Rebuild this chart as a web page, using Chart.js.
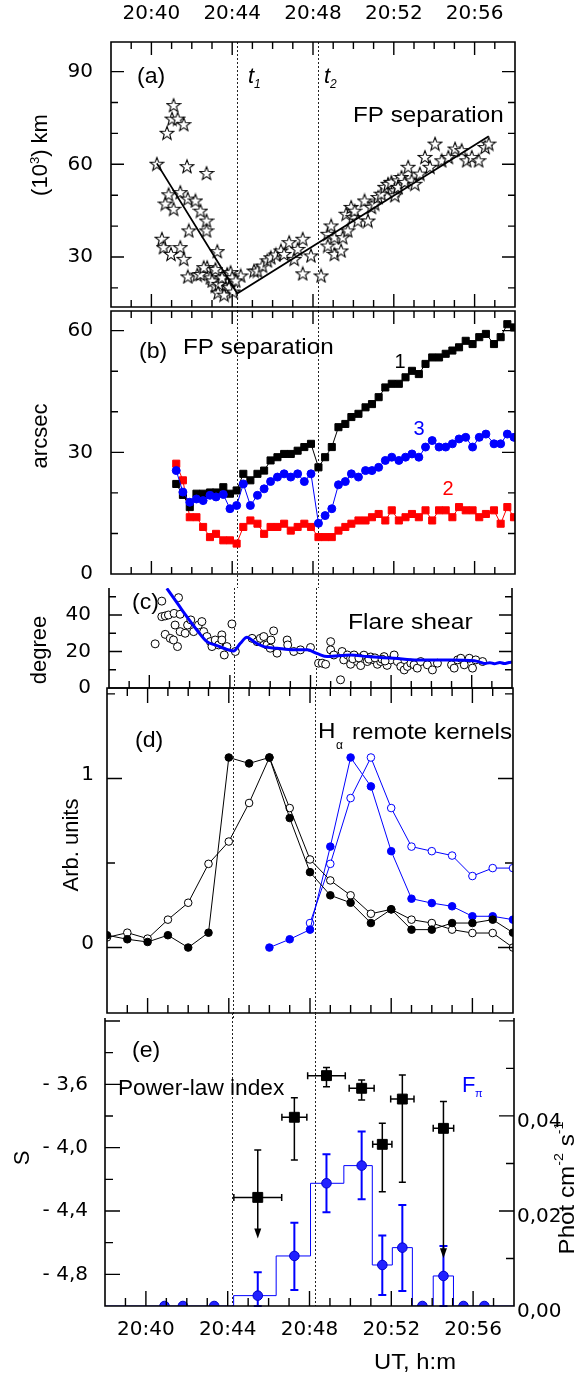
<!DOCTYPE html>
<html>
<head>
<meta charset="utf-8">
<title>Flare footpoint separation</title>
<script src="https://cdn.jsdelivr.net/npm/chart.js@4.4.1/dist/chart.umd.min.js"></script>
<style>
html,body{margin:0;padding:0;background:#fff;}
#wrap{position:relative;width:579px;height:1375px;overflow:hidden;background:#fff;}
#wrap canvas{position:absolute;left:0;top:0;}
</style>
</head>
<body>
<div id="wrap">
<canvas id="pa" width="579" height="1375"></canvas>
<canvas id="pb" width="579" height="1375"></canvas>
<canvas id="pc" width="579" height="1375"></canvas>
<canvas id="pd" width="579" height="1375"></canvas>
<canvas id="pe" width="579" height="1375"></canvas>
</div>
<script>
// ================= DATA (time in minutes after 20:00 UT) =================
const timeTicks = [40, 44, 48, 52, 56];
const timeTickLabels = ['20:40', '20:44', '20:48', '20:52', '20:56'];
const markerTimes = [44.22, 48.25]; // t1, t2

// (a) FP separation, 10^3 km
const kmTicks = [30, 60, 90];
const fpKmTime = [41.10,41.02,41.30,41.60,40.77,40.27,41.76,42.73,40.85,41.43,40.69,41.10,41.80,42.18,42.43,42.73,42.73,41.85,40.52,40.60,40.97,41.43,41.60,43.26,41.80,42.27,42.76,42.92,43.17,43.42,43.67,43.75,43.92,44.42,42.43,42.59,43.01,43.17,43.34,43.50,43.84,44.00,44.17,43.30,43.60,44.05,45.08,45.25,45.50,45.74,45.91,46.16,46.41,46.57,46.82,47.07,47.24,47.49,47.90,47.49,48.40,48.73,48.73,48.90,49.06,49.06,49.39,49.47,49.64,49.72,49.89,49.97,50.06,50.22,50.55,50.72,50.89,51.05,51.22,51.38,51.55,51.71,51.88,52.05,52.05,52.21,52.21,52.38,52.54,52.71,52.88,53.04,53.29,53.54,53.79,54.04,54.37,54.70,55.03,55.36,55.61,55.86,56.20,56.52,56.70];
const fpKm = [79.2,74.8,74.8,73.0,70.2,60.2,59.4,57.2,50.3,51.0,47.3,45.6,48.9,48.3,45.0,41.8,38.6,38.6,35.9,33.2,31.0,33.2,29.4,31.9,23.7,24.3,26.7,23.4,20.7,22.4,20.2,24.5,25.1,24.0,24.5,26.7,22.4,26.1,21.3,23.4,20.2,23.4,22.4,18.5,17.8,18.8,25.6,25.6,27.2,28.9,29.9,30.8,32.1,31.0,34.8,29.4,32.6,35.9,30.5,24.7,24.0,33.7,37.5,40.2,36.4,31.0,32.1,36.4,44.0,38.6,46.2,42.9,45.0,41.8,48.3,41.8,46.2,47.3,49.4,50.5,52.7,53.7,54.3,51.6,50.0,54.8,52.7,55.9,54.3,59.2,54.8,53.7,57.0,62.4,59.2,66.7,61.3,62.4,65.1,64.6,61.3,62.4,61.3,65.6,66.7];
const fpFitTime = [40.27, 44.25, 56.70];
const fpFit = [60.3, 18.2, 69.1];

// (b) FP separation, arcsec
const arcTicks = [0, 30, 60];
const arcTime = [41.23,41.56,41.90,42.23,42.56,42.90,43.20,43.56,43.89,44.22,44.55,44.90,45.25,45.58,45.90,46.24,46.57,46.90,47.24,47.57,47.90,48.27,48.60,48.93,49.26,49.60,49.90,50.25,50.60,50.92,51.25,51.58,51.90,52.25,52.58,52.90,53.24,53.57,53.90,54.24,54.57,54.90,55.23,55.56,55.90,56.23,56.56,56.96,57.29,57.62,57.95];
const arcSeries1 = [22.2,19.5,16.5,19.8,19.8,20.1,20.1,21.4,19.8,20.6,24.7,23.1,24.7,25.5,28.0,28.8,29.6,29.6,30.4,31.3,32.1,26.3,28.8,31.3,36.2,37.0,38.7,39.5,41.1,41.9,43.6,46.0,46.9,46.9,48.5,50.1,49.3,51.8,53.4,53.4,54.3,55.1,55.9,57.5,56.7,58.4,59.2,56.7,58.4,61.6,60.8];
const arcSeries2 = [27.2,23.1,14.0,14.0,11.6,9.1,9.9,8.3,8.3,7.5,11.6,13.2,12.4,9.9,11.6,11.6,12.4,10.7,11.6,12.4,11.6,9.1,9.1,9.1,10.7,11.6,12.4,13.2,13.2,14.0,14.8,13.2,15.7,13.2,14.0,14.8,14.0,15.7,13.2,15.7,15.7,14.0,16.5,15.7,15.7,14.0,14.8,15.7,12.4,16.5,14.0];
const arcSeries3 = [25.5,20.2,17.7,18.5,18.1,19.4,19.0,19.6,16.1,16.9,22.2,16.9,19.4,21.0,22.8,23.9,24.7,23.9,24.7,22.8,24.7,12.5,14.4,16.1,22.0,22.8,24.7,23.9,25.5,25.5,26.3,28.0,28.8,28.0,28.8,29.6,28.8,31.3,32.9,31.3,31.3,32.1,33.3,33.7,31.3,33.7,34.5,32.1,32.1,34.5,33.7];

// (c) flare shear, degree
const degTicks = [0, 20, 40];
const shearTime = [40.29,40.62,41.45,40.62,40.79,40.95,41.23,41.53,40.79,41.04,41.28,41.40,41.20,41.53,41.78,41.90,42.06,42.20,42.44,42.61,42.70,42.86,43.03,43.11,43.27,43.44,43.60,43.60,43.85,43.72,44.10,44.27,45.10,45.35,45.51,45.68,45.84,46.00,46.17,46.04,46.34,46.84,46.87,47.17,47.50,48.00,48.40,48.58,48.75,49.00,49.00,49.16,49.49,49.57,49.65,49.83,49.99,49.99,50.16,50.32,50.49,50.65,50.82,50.99,51.15,51.32,51.48,51.65,51.80,51.98,52.15,52.31,52.48,52.65,52.81,52.98,53.14,53.30,53.47,53.80,54.05,54.30,55.00,55.13,55.30,55.46,55.63,55.88,56.04,56.20,56.54,50.10,50.40,50.90,51.20,51.55,51.70];
const shearDeg = [24.2,47.6,49.5,39.1,39.5,40.0,40.9,40.4,29.4,27.2,34.5,22.7,26.3,30.9,30.0,34.5,37.3,30.9,34.5,36.4,30.9,28.2,25.4,22.7,26.3,23.6,29.1,26.3,22.7,18.1,35.1,20.0,27.2,25.4,27.2,28.2,23.6,21.8,31.3,26.3,19.1,26.3,23.6,20.0,20.9,22.2,13.6,13.6,13.0,25.4,20.9,18.1,4.5,20.0,15.4,18.1,16.3,13.0,18.1,14.5,12.3,18.0,14.5,17.0,15.4,13.0,14.5,17.2,12.4,15.4,18.1,14.5,11.8,9.9,11.8,13.6,12.7,10.9,14.5,12.7,9.9,13.6,12.7,10.9,15.4,16.3,12.7,16.3,10.9,15.4,14.5,16.0,16.5,15.8,16.5,15.8,14.8];
const shearFitTime = [40.87,41.45,41.86,42.36,42.86,43.27,43.69,44.18,44.52,44.85,45.18,45.68,46.34,47.17,47.83,48.35,48.83,49.99,50.82,52.15,53.31,54.14,54.97,56.13,56.40,56.62,56.90,57.12,57.40,57.62,57.85,58.00];
const shearFit = [54.6,45.5,39.1,31.8,25.4,23.6,21.8,20.3,24.5,27.8,25.4,22.7,21.8,20.9,20.9,18.8,17.2,18.1,17.2,16.3,15.4,15.4,15.4,14.9,14.2,13.4,13.9,13.3,14.0,13.4,14.0,14.2];

// (d) H-alpha remote kernels, arb. units
const arbTicks = [0, 1];
const kernTimeBlack = [38,39,40,41,42,43,44,45,46,47,48,49,50,51,52,53,54,55,56,57,58];
const kernBlackFilled = [0.073,0.049,0.033,0.073,0.000,0.088,1.124,1.089,1.124,0.766,0.446,0.309,0.265,0.145,0.226,0.106,0.106,0.145,0.145,0.165,0.088];
const kernBlackOpen = [0.060,0.088,0.053,0.165,0.265,0.495,0.627,0.855,1.124,0.825,0.521,0.397,0.309,0.200,0.226,0.165,0.145,0.106,0.086,0.086,0.000];
const kernTimeBlueFilled = [46,47,48,49,50,51,52,53,54,55,56,57,58];
const kernBlueFilled = [0.000,0.049,0.106,0.597,1.124,0.953,0.570,0.289,0.263,0.244,0.185,0.185,0.165];
const kernTimeBlueOpen = [48,49,50,51,52,53,54,55,56,57,58];
const kernBlueOpen = [0.145,0.495,0.884,1.124,0.825,0.597,0.570,0.544,0.423,0.470,0.470];

// (e) power-law index S and flux F_pi
const sTicks = [-4.8, -4.4, -4.0, -3.6];
const sTickLabels = ['- 4,8', '- 4,4', '- 4,0', '- 3,6'];
const fluxTicks = [0, 0.02, 0.04];
const fluxTickLabels = ['0,00', '0,02', '0,04'];
const sTime = [45.47, 47.26, 48.83, 50.55, 51.56, 52.54, 54.55];
const sIndex = [-4.314, -3.808, -3.545, -3.625, -3.979, -3.693, -3.878];
const sTimeErr = [1.17, 0.61, 0.92, 0.61, 0.47, 0.57, 0.50];
const sHigh = [-4.015, -3.684, -3.493, -3.573, -3.846, -3.541, -3.709];
const sLow = [-4.573, -4.078, -3.615, -3.699, -4.278, -4.219, -4.699];
const sUpperLimit = [true, false, false, false, false, false, true];
const fluxTime = [40.91, 41.81, 43.34, 45.47, 47.26, 48.83, 50.55, 51.56, 52.54, 53.52, 54.55, 55.53, 56.55];
const flux = [0, 0, 0, 0.00218, 0.01053, 0.02582, 0.02954, 0.00863, 0.01228, 0, 0.00632, 0, 0];
const fluxHigh = [null, null, null, 0.0071, 0.01754, 0.03193, 0.0367, 0.01481, 0.02126, null, 0.01263, null, null];
const fluxLow = [null, null, null, 0, 0.00337, 0.01972, 0.02246, 0.00232, 0.00316, null, 0, null, null];
const fluxStepTime = [38, 44.29, 46.37, 48.05, 49.68, 51.07, 52.05, 53.03, 54.05, 55.04, 58];
const fluxStep = [0, 0.00218, 0.01053, 0.02582, 0.02954, 0.00863, 0.01228, 0, 0.00632, 0, 0];

// ================= RENDERING =================
Chart.defaults.font.family = '"DejaVu Sans", sans-serif';
Chart.defaults.font.size = 20;
Chart.defaults.color = '#000';
const W = 579, H = 1375;
const BLUE = '#0000ff', RED = '#ff0000';
const pts = (xs, ys) => xs.map((x, i) => ({x, y: ys[i]}));
const setTicks = vals => s => { s.ticks = vals.map(v => ({value: v})); };

function ticksBetween(min, max, step) {
  const out = [];
  const k0 = Math.ceil(min / step - 1e-6), k1 = Math.floor(max / step + 1e-6);
  for (let k = k0; k <= k1; k++) out.push(k * step);
  return out;
}
function isMajor(v, major) { const q = v / major; return Math.abs(q - Math.round(q)) < 1e-6; }

const framePlugin = {
  id: 'frame',
  beforeDatasetsDraw(chart, args, o) {
    const {ctx, chartArea: a} = chart, xs = chart.scales.x;
    ctx.save(); ctx.strokeStyle = '#222'; ctx.lineWidth = 1; ctx.setLineDash([2, 2]);
    for (const t of (o.markers || [])) {
      const px = Math.round(xs.getPixelForValue(t)) + 0.5;
      ctx.beginPath(); ctx.moveTo(px, a.top - (o.markTop || 0)); ctx.lineTo(px, a.bottom + (o.markBottom || 0)); ctx.stroke();
    }
    ctx.restore();
  },
  afterDatasetsDraw(chart, args, o) {
    const {ctx, chartArea: a} = chart, xs = chart.scales.x;
    const LM = o.len[0], Lm = o.len[1];
    ctx.save(); ctx.strokeStyle = '#000'; ctx.lineWidth = 1.6; ctx.setLineDash([]);
    ctx.beginPath();
    if (o.sides.includes('l')) { ctx.moveTo(a.left, a.top); ctx.lineTo(a.left, a.bottom); }
    if (o.sides.includes('r')) { ctx.moveTo(a.right, a.top); ctx.lineTo(a.right, a.bottom); }
    if (o.sides.includes('t')) { ctx.moveTo(a.left - 0.8, a.top); ctx.lineTo(a.right + 0.8, a.top); }
    if (o.sides.includes('b')) { ctx.moveTo(a.left - 0.8, a.bottom); ctx.lineTo(a.right + 0.8, a.bottom); }
    ctx.stroke();
    ctx.lineWidth = 1.4; ctx.beginPath();
    for (const v of ticksBetween(xs.min, xs.max, o.xMinor)) {
      const px = xs.getPixelForValue(v);
      if (px < a.left + 2 || px > a.right - 2) continue;
      const L = isMajor(v, o.xMajor) ? LM : Lm;
      ctx.moveTo(px, a.bottom); ctx.lineTo(px, a.bottom - L);
      if (o.topTicks) { ctx.moveTo(px, a.top); ctx.lineTo(px, a.top + L); }
    }
    for (const side of ['left', 'right']) {
      const c = o[side]; if (!c) continue;
      const ys = chart.scales[c.scale];
      for (const v of ticksBetween(ys.min, ys.max, c.minor)) {
        const py = ys.getPixelForValue(v);
        if (py < a.top + 2 || py > a.bottom - 2) continue;
        const L = isMajor(v, c.major) ? LM : Lm;
        if (side === 'left') { ctx.moveTo(a.left, py); ctx.lineTo(a.left + L, py); }
        else { ctx.moveTo(a.right, py); ctx.lineTo(a.right - L, py); }
      }
    }
    ctx.stroke(); ctx.restore();
  }
};

const textPlugin = {
  id: 'texts',
  afterDraw(chart, args, o) {
    const ctx = chart.ctx;
    for (const t of (o.items || [])) {
      ctx.save();
      ctx.fillStyle = t.color || '#000';
      ctx.textBaseline = t.baseline || 'alphabetic';
      ctx.translate(t.x, t.y);
      if (t.rot) ctx.rotate(t.rot);
      ctx.scale(t.sx || 1, 1);
      const parts = t.parts || [{text: t.text}];
      const fontOf = p => `${p.style || t.style || ''} ${p.size || t.size || 22}px "Liberation Sans", Arial, sans-serif`;
      let total = 0;
      for (const p of parts) { ctx.font = fontOf(p); total += ctx.measureText(p.text).width; }
      let x = t.align === 'center' ? -total / 2 : (t.align === 'right' ? -total : 0);
      ctx.textAlign = 'left';
      for (const p of parts) { ctx.font = fontOf(p); ctx.fillText(p.text, x, p.dy || 0); x += ctx.measureText(p.text).width; }
      ctx.restore();
    }
  }
};

const errPlugin = {
  id: 'errbars',
  beforeDatasetsDraw(chart, args, o) {
    const ctx = chart.ctx, xs = chart.scales.x;
    for (const s of (o.sets || [])) {
      const ys = chart.scales[s.yAxis];
      ctx.save(); ctx.strokeStyle = s.color; ctx.fillStyle = s.color; ctx.lineWidth = s.width;
      s.x.forEach((xv, i) => {
        const px = xs.getPixelForValue(xv), py = ys.getPixelForValue(s.y[i]);
        const c = s.cap;
        ctx.beginPath();
        if (s.xErr) {
          const x1 = xs.getPixelForValue(xv - s.xErr[i]), x2 = xs.getPixelForValue(xv + s.xErr[i]);
          ctx.moveTo(x1, py); ctx.lineTo(x2, py);
          ctx.moveTo(x1, py - c); ctx.lineTo(x1, py + c);
          ctx.moveTo(x2, py - c); ctx.lineTo(x2, py + c);
        }
        if (s.hi[i] != null) {
          const yh = ys.getPixelForValue(s.hi[i]), yl = ys.getPixelForValue(s.lo[i]);
          const arrow = s.arrow && s.arrow[i];
          ctx.moveTo(px, yh); ctx.lineTo(px, arrow ? yl - 6 : yl);
          ctx.moveTo(px - c, yh); ctx.lineTo(px + c, yh);
          if (!arrow) { ctx.moveTo(px - c, yl); ctx.lineTo(px + c, yl); }
        }
        ctx.stroke();
        if (s.arrow && s.arrow[i]) {
          const yl = ys.getPixelForValue(s.lo[i]);
          ctx.beginPath(); ctx.moveTo(px, yl); ctx.lineTo(px - 3.5, yl - 10); ctx.lineTo(px + 3.5, yl - 10); ctx.closePath(); ctx.fill();
        }
      });
      ctx.restore();
    }
  }
};

// axis boxes get real sizes (labels are clipped to them); chart area is set by padding + box sizes
function timeAxis(position, showLabels, pad, boxH) {
  return {type: 'linear', position, min: 38, max: 58, afterFit: s => { s.height = boxH || 0; }, afterBuildTicks: setTicks(timeTicks),
    grid: {display: false, drawTicks: false}, border: {display: false},
    ticks: {display: showLabels, padding: pad || 0, autoSkip: false, maxRotation: 0, minRotation: 0,
      callback: (v, i) => timeTickLabels[i]}};
}
function valueAxis(position, min, max, vals, labels, pad, offset, boxW) {
  return {type: 'linear', position, min, max, afterFit: s => { s.width = boxW; }, afterBuildTicks: setTicks(vals),
    grid: {display: false, drawTicks: false}, border: {display: false},
    ticks: {padding: pad, autoSkip: false, labelOffset: offset || 0, callback: (v, i) => labels[i]}};
}
function makeChart(id, area, boxes, scales, datasets, frame, texts, errbars) {
  const b = Object.assign({left: 0, right: 0, top: 0, bottom: 0}, boxes);
  return new Chart(document.getElementById(id), {
    type: 'scatter',
    data: {datasets},
    options: {
      responsive: false, animation: false, devicePixelRatio: 1, events: [],
      layout: {padding: {left: area[0] - b.left, top: area[1] - b.top, right: W - area[2] - b.right, bottom: H - area[3] - b.bottom}},
      scales,
      plugins: {legend: {display: false}, tooltip: {enabled: false}, frame, texts: {items: texts}, errbars: {sets: errbars || []}}
    },
    plugins: [framePlugin, textPlugin, errPlugin]
  });
}

function makeStar(size) {
  const c = document.createElement('canvas'); c.width = c.height = size;
  const g = c.getContext('2d');
  const R = size / 2 - 1, r = R * 0.42, cx = size / 2, cy = size / 2 + 0.7;
  g.beginPath();
  for (let i = 0; i < 10; i++) {
    const ang = -Math.PI / 2 + i * Math.PI / 5, rad = i % 2 ? r : R;
    g.lineTo(cx + rad * Math.cos(ang), cy + rad * Math.sin(ang));
  }
  g.closePath(); g.fillStyle = '#fff'; g.fill(); g.lineWidth = 1.1; g.strokeStyle = '#000'; g.stroke();
  return c;
}
const star = makeStar(16);
const ROT = -Math.PI / 2;
const LBOX = 100;

// ---- panel (a) ----
makeChart('pa', [111, 42, 515, 307], {left: LBOX, top: 40}, {
  x: timeAxis('bottom', false, 0, 0),
  x2: timeAxis('top', true, 16, 40),
  y: valueAxis('left', 13.8, 99.6, kmTicks, kmTicks.map(String), 18, 0, LBOX)
}, [
  {data: pts(fpFitTime, fpFit), showLine: true, borderColor: '#000', borderWidth: 1.8, pointRadius: 0},
  {data: pts(fpKmTime, fpKm), showLine: false, pointStyle: star, pointRadius: 7}
], {sides: 'lrtb', topTicks: true, xMinor: 1, xMajor: 4, len: [13, 7],
    left: {scale: 'y', minor: 10, major: 30}, right: {scale: 'y', minor: 10, major: 30},
    markers: markerTimes, markBottom: 4},
[
  {text: '(a)', x: 137, y: 77, baseline: 'middle', size: 22, sx: 1.05},
  {parts: [{text: 't', style: 'italic'}, {text: '1', style: 'italic', size: 12, dy: 5}], x: 248, y: 83, size: 22},
  {parts: [{text: 't', style: 'italic'}, {text: '2', style: 'italic', size: 12, dy: 5}], x: 324, y: 83, size: 22},
  {text: 'FP separation', x: 353, y: 122, size: 22, sx: 1.1},
  {parts: [{text: '(10'}, {text: '3', size: 13, dy: -6}, {text: ') km'}], x: 41, y: 155, rot: ROT, align: 'center', baseline: 'middle', size: 22}
]);

// ---- panel (b) ----
makeChart('pb', [111, 311, 515, 574], {left: LBOX}, {
  x: timeAxis('bottom', false, 0, 0),
  y: valueAxis('left', 0, 64.85, arcTicks, arcTicks.map(String), 18, 0, LBOX)
}, [
  {data: pts(arcTime, arcSeries3), showLine: true, borderColor: BLUE, borderWidth: 1, pointStyle: 'circle', pointRadius: 4, pointBackgroundColor: BLUE, pointBorderColor: BLUE},
  {data: pts(arcTime, arcSeries1), showLine: true, borderColor: '#000', borderWidth: 1, pointStyle: 'rect', pointRadius: 5, pointBackgroundColor: '#000', pointBorderColor: '#000'},
  {data: pts(arcTime, arcSeries2), showLine: true, borderColor: RED, borderWidth: 1, pointStyle: 'rect', pointRadius: 5, pointBackgroundColor: RED, pointBorderColor: RED}
], {sides: 'lrtb', topTicks: true, xMinor: 1, xMajor: 4, len: [13, 7],
    left: {scale: 'y', minor: 10, major: 30}, right: {scale: 'y', minor: 10, major: 30},
    markers: markerTimes, markBottom: 14},
[
  {text: '(b)', x: 139, y: 352, baseline: 'middle', size: 22, sx: 1.05},
  {text: 'FP separation', x: 183, y: 354, size: 22, sx: 1.1},
  {text: '1', x: 400, y: 362, align: 'center', baseline: 'middle', size: 20},
  {text: '3', x: 419, y: 429, align: 'center', baseline: 'middle', size: 20, color: BLUE},
  {text: '2', x: 448, y: 489, align: 'center', baseline: 'middle', size: 20, color: RED},
  {text: 'arcsec', x: 41, y: 436, rot: ROT, align: 'center', baseline: 'middle', size: 22}
]);

// ---- panel (c) ----
makeChart('pc', [109, 588, 512, 688], {left: LBOX}, {
  x: timeAxis('bottom', false, 0, 0),
  y: valueAxis('left', 0, 54.8, degTicks, degTicks.map(String), 18, 0, LBOX)
}, [
  {data: pts(shearFitTime, shearFit), showLine: true, borderColor: BLUE, borderWidth: 3, pointRadius: 0, cubicInterpolationMode: 'monotone'},
  {data: pts(shearTime, shearDeg), showLine: false, pointStyle: 'circle', pointRadius: 4, pointBackgroundColor: '#fff', pointBorderColor: '#000', pointBorderWidth: 1}
], {sides: 'lrb', topTicks: false, xMinor: 1, xMajor: 4, len: [13, 7],
    left: {scale: 'y', minor: 10, major: 20}, right: {scale: 'y', minor: 10, major: 20},
    markers: markerTimes},
[
  {text: '(c)', x: 132, y: 603, baseline: 'middle', size: 22, sx: 1.05},
  {text: 'Flare shear', x: 348, y: 629, size: 22, sx: 1.12},
  {text: 'degree', x: 40, y: 650, rot: ROT, align: 'center', baseline: 'middle', size: 22}
]);

// ---- panel (d) ----
makeChart('pd', [107, 688, 513, 1013], {left: LBOX}, {
  x: timeAxis('bottom', false, 0, 0),
  y: valueAxis('left', -0.387, 1.535, arbTicks, arbTicks.map(String), 13, -4, LBOX)
}, [
  {data: pts(kernTimeBlack, kernBlackFilled), showLine: true, borderColor: '#000', borderWidth: 1, pointStyle: 'circle', pointRadius: 3.8, pointBackgroundColor: '#000', pointBorderColor: '#000'},
  {data: pts(kernTimeBlack, kernBlackOpen), showLine: true, borderColor: '#000', borderWidth: 1, pointStyle: 'circle', pointRadius: 3.8, pointBackgroundColor: '#fff', pointBorderColor: '#000'},
  {data: pts(kernTimeBlueFilled, kernBlueFilled), showLine: true, borderColor: BLUE, borderWidth: 1, pointStyle: 'circle', pointRadius: 3.8, pointBackgroundColor: BLUE, pointBorderColor: BLUE},
  {data: pts(kernTimeBlueOpen, kernBlueOpen), showLine: true, borderColor: BLUE, borderWidth: 1, pointStyle: 'circle', pointRadius: 3.8, pointBackgroundColor: '#fff', pointBorderColor: BLUE}
], {sides: 'lrtb', topTicks: true, xMinor: 1, xMajor: 4, len: [15, 8],
    left: {scale: 'y', minor: 0.5, major: 1}, right: {scale: 'y', minor: 0.5, major: 1},
    markers: markerTimes, markBottom: 5},
[
  {text: '(d)', x: 135, y: 741, baseline: 'middle', size: 22, sx: 1.05},
  {text: 'H', x: 318, y: 738, size: 22, sx: 1.1},
  {text: 'α', x: 336, y: 749, size: 12},
  {text: 'remote kernels', x: 352, y: 739, size: 22, sx: 1.1},
  {text: 'Arb. units', x: 72, y: 845, rot: ROT, align: 'center', baseline: 'middle', size: 22}
]);

// ---- panel (e) ----
makeChart('pe', [105, 1018, 514, 1306], {left: LBOX, right: 60, bottom: 64}, {
  x: timeAxis('bottom', true, 12, 64),
  y: valueAxis('left', -5.0, -3.181, sTicks, sTickLabels, 17, 0, LBOX),
  y2: valueAxis('right', 0, 0.0606, fluxTicks, fluxTickLabels, 3, 6, 60)
}, [
  {data: pts(sTime, sIndex), yAxisID: 'y', showLine: false, pointStyle: 'rect', pointRadius: 7, pointBackgroundColor: '#000', pointBorderColor: '#000'},
  {data: pts(fluxTime, flux), yAxisID: 'y2', showLine: false, pointStyle: 'circle', pointRadius: 4.8, pointBackgroundColor: '#2222ff', pointBorderColor: '#0000cc', pointBorderWidth: 1},
  {data: pts(fluxStepTime, fluxStep), yAxisID: 'y2', showLine: true, stepped: true, borderColor: BLUE, borderWidth: 1, pointRadius: 0}
], {sides: 'lrb', topTicks: false, xMinor: 1, xMajor: 4, len: [15, 8],
    left: {scale: 'y', minor: 0.2, major: 0.4}, right: {scale: 'y2', minor: 0.01, major: 0.02},
    markers: markerTimes, markTop: 5},
[
  {text: '(e)', x: 132, y: 1051, baseline: 'middle', size: 22, sx: 1.05},
  {text: 'Power-law index', x: 118, y: 1095, size: 22, sx: 1.03},
  {text: 'F', x: 462, y: 1092, size: 22, color: BLUE},
  {text: 'π', x: 475, y: 1097, size: 11, color: BLUE},
  {text: 'S', x: 23, y: 1158, rot: ROT, align: 'center', baseline: 'middle', size: 22},
  {parts: [{text: 'Phot cm'}, {text: '-2', size: 13, dy: -9}, {text: ' s'}, {text: '-1', size: 13, dy: -9}], x: 568, y: 1188, rot: ROT, align: 'center', baseline: 'middle', size: 22, sx: 1.1},
  {text: 'UT, h:m', x: 415, y: 1363, align: 'center', baseline: 'middle', size: 22, sx: 1.08}
],
[
  {yAxis: 'y2', color: BLUE, width: 2, cap: 4, x: fluxTime, y: flux, hi: fluxHigh, lo: fluxLow},
  {yAxis: 'y', color: '#000', width: 1.5, cap: 3.5, x: sTime, y: sIndex, xErr: sTimeErr, hi: sHigh, lo: sLow, arrow: sUpperLimit}
]);
</script>
</body>
</html>
